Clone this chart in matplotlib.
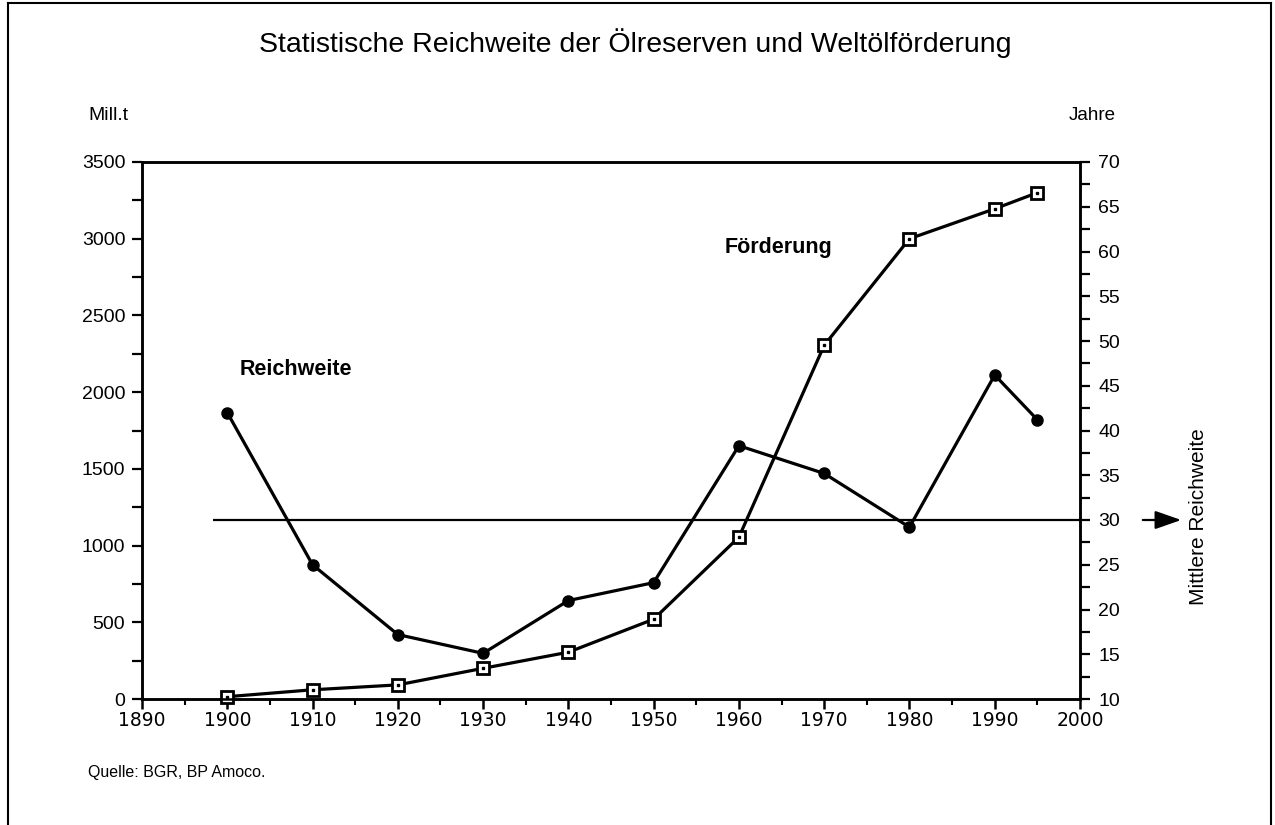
import matplotlib
matplotlib.use("Agg")
import matplotlib.pyplot as plt
from matplotlib.ticker import MultipleLocator
from matplotlib.lines import Line2D
from matplotlib.patches import FancyArrowPatch

plt.rcParams['font.family'] = ['Liberation Sans', 'DejaVu Sans']

years = [1900, 1910, 1920, 1930, 1940, 1950, 1960, 1970, 1980, 1990, 1995]
foerderung = [15, 60, 92, 200, 305, 520, 1055, 2305, 3000, 3195, 3300]
reichweite = [42, 25, 17.2, 15.1, 21, 23, 38.3, 35.2, 29.2, 46.2, 41.2]
mittlere_reichweite = 30
mittel_start = 1898.3

title = "Statistische Reichweite der Ölreserven und Weltölförderung"

fig = plt.figure(figsize=(12.75, 8.25), dpi=100)
ax = fig.add_axes([142/1275, 1-699/825, (1080-142)/1275, (699-162)/825])
ax2 = ax.twinx()

ax.set_xlim(1890, 2000)
ax.set_ylim(0, 3500)
ax2.set_ylim(10, 70)

# Förderung (left axis)
ax.plot(years, foerderung, color='black', lw=2.3, marker='s', ms=8.5,
        mfc='white', mec='black', mew=2.0, zorder=3, clip_on=False)
ax.plot(years, foerderung, ls='none', marker='s', ms=2.0, mfc='black', mec='black', zorder=4, clip_on=False)

# Reichweite (right axis)
ax2.plot(years, reichweite, color='black', lw=2.3, marker='o', ms=8,
         mfc='black', mec='black', zorder=3, clip_on=False)
ax2.hlines(mittlere_reichweite, mittel_start, 2000, color='black', lw=1.6, zorder=2)

for a in (ax, ax2):
    for s in a.spines.values():
        s.set_linewidth(1.8)
        s.set_color('black')

ax.xaxis.set_major_locator(MultipleLocator(10))
ax.xaxis.set_minor_locator(MultipleLocator(5))
ax.yaxis.set_major_locator(MultipleLocator(500))
ax.yaxis.set_minor_locator(MultipleLocator(250))
ax2.yaxis.set_major_locator(MultipleLocator(5))
ax2.yaxis.set_minor_locator(MultipleLocator(2.5))

ax.tick_params(axis='x', which='major', direction='out', length=7, width=1.8, labelsize=13.5, pad=2)
ax.tick_params(axis='x', which='minor', direction='out', length=4, width=1.5)
ax.tick_params(axis='y', which='major', direction='out', length=7, width=1.6, labelsize=14, pad=5)
ax.tick_params(axis='y', which='minor', direction='out', length=7, width=1.6)
ax2.tick_params(axis='y', which='major', direction='out', length=7, width=1.6, labelsize=14, pad=6)
ax2.tick_params(axis='y', which='minor', direction='out', length=7, width=1.6)

for lbl in ax.get_xticklabels():
    lbl.set_fontfamily(['DejaVu Sans'])

ax.text(1901.5, 2150, "Reichweite", fontsize=15.5, fontweight='bold', ha='left', va='center')
ax.text(1958.3, 2940, "Förderung", fontsize=15.5, fontweight='bold', ha='left', va='center')

fig.text(635/1275, 1-43/825, title, fontsize=20.5, ha='center', va='center')
fig.text(88/1275, 1-116/825, "Mill.t", fontsize=14, ha='left', va='center')
fig.text(1069/1275, 1-116/825, "Jahre", fontsize=13.5, ha='left', va='center')
fig.text(88/1275, 1-773/825, "Quelle: BGR, BP Amoco.", fontsize=11.5, ha='left', va='center')
fig.text(1199/1275, 1-517/825, "Mittlere Reichweite", fontsize=15, rotation=90, ha='center', va='center')

fig.patches.append(FancyArrowPatch(
    (1140/1275, 1-520/825), (1184/1275, 1-520/825), transform=fig.transFigure,
    arrowstyle='-|>,head_length=8,head_width=2.8', mutation_scale=2.0, color='black', lw=1.6))

# frame
for xs, ys in [([8, 8], [3, 825]), ([8, 1271], [3, 3]), ([1271, 1271], [3, 825])]:
    fig.add_artist(Line2D([x/1275 for x in xs], [1-y/825 for y in ys], transform=fig.transFigure,
                          color='black', lw=1.5))

fig.savefig("out.png", dpi=100)
